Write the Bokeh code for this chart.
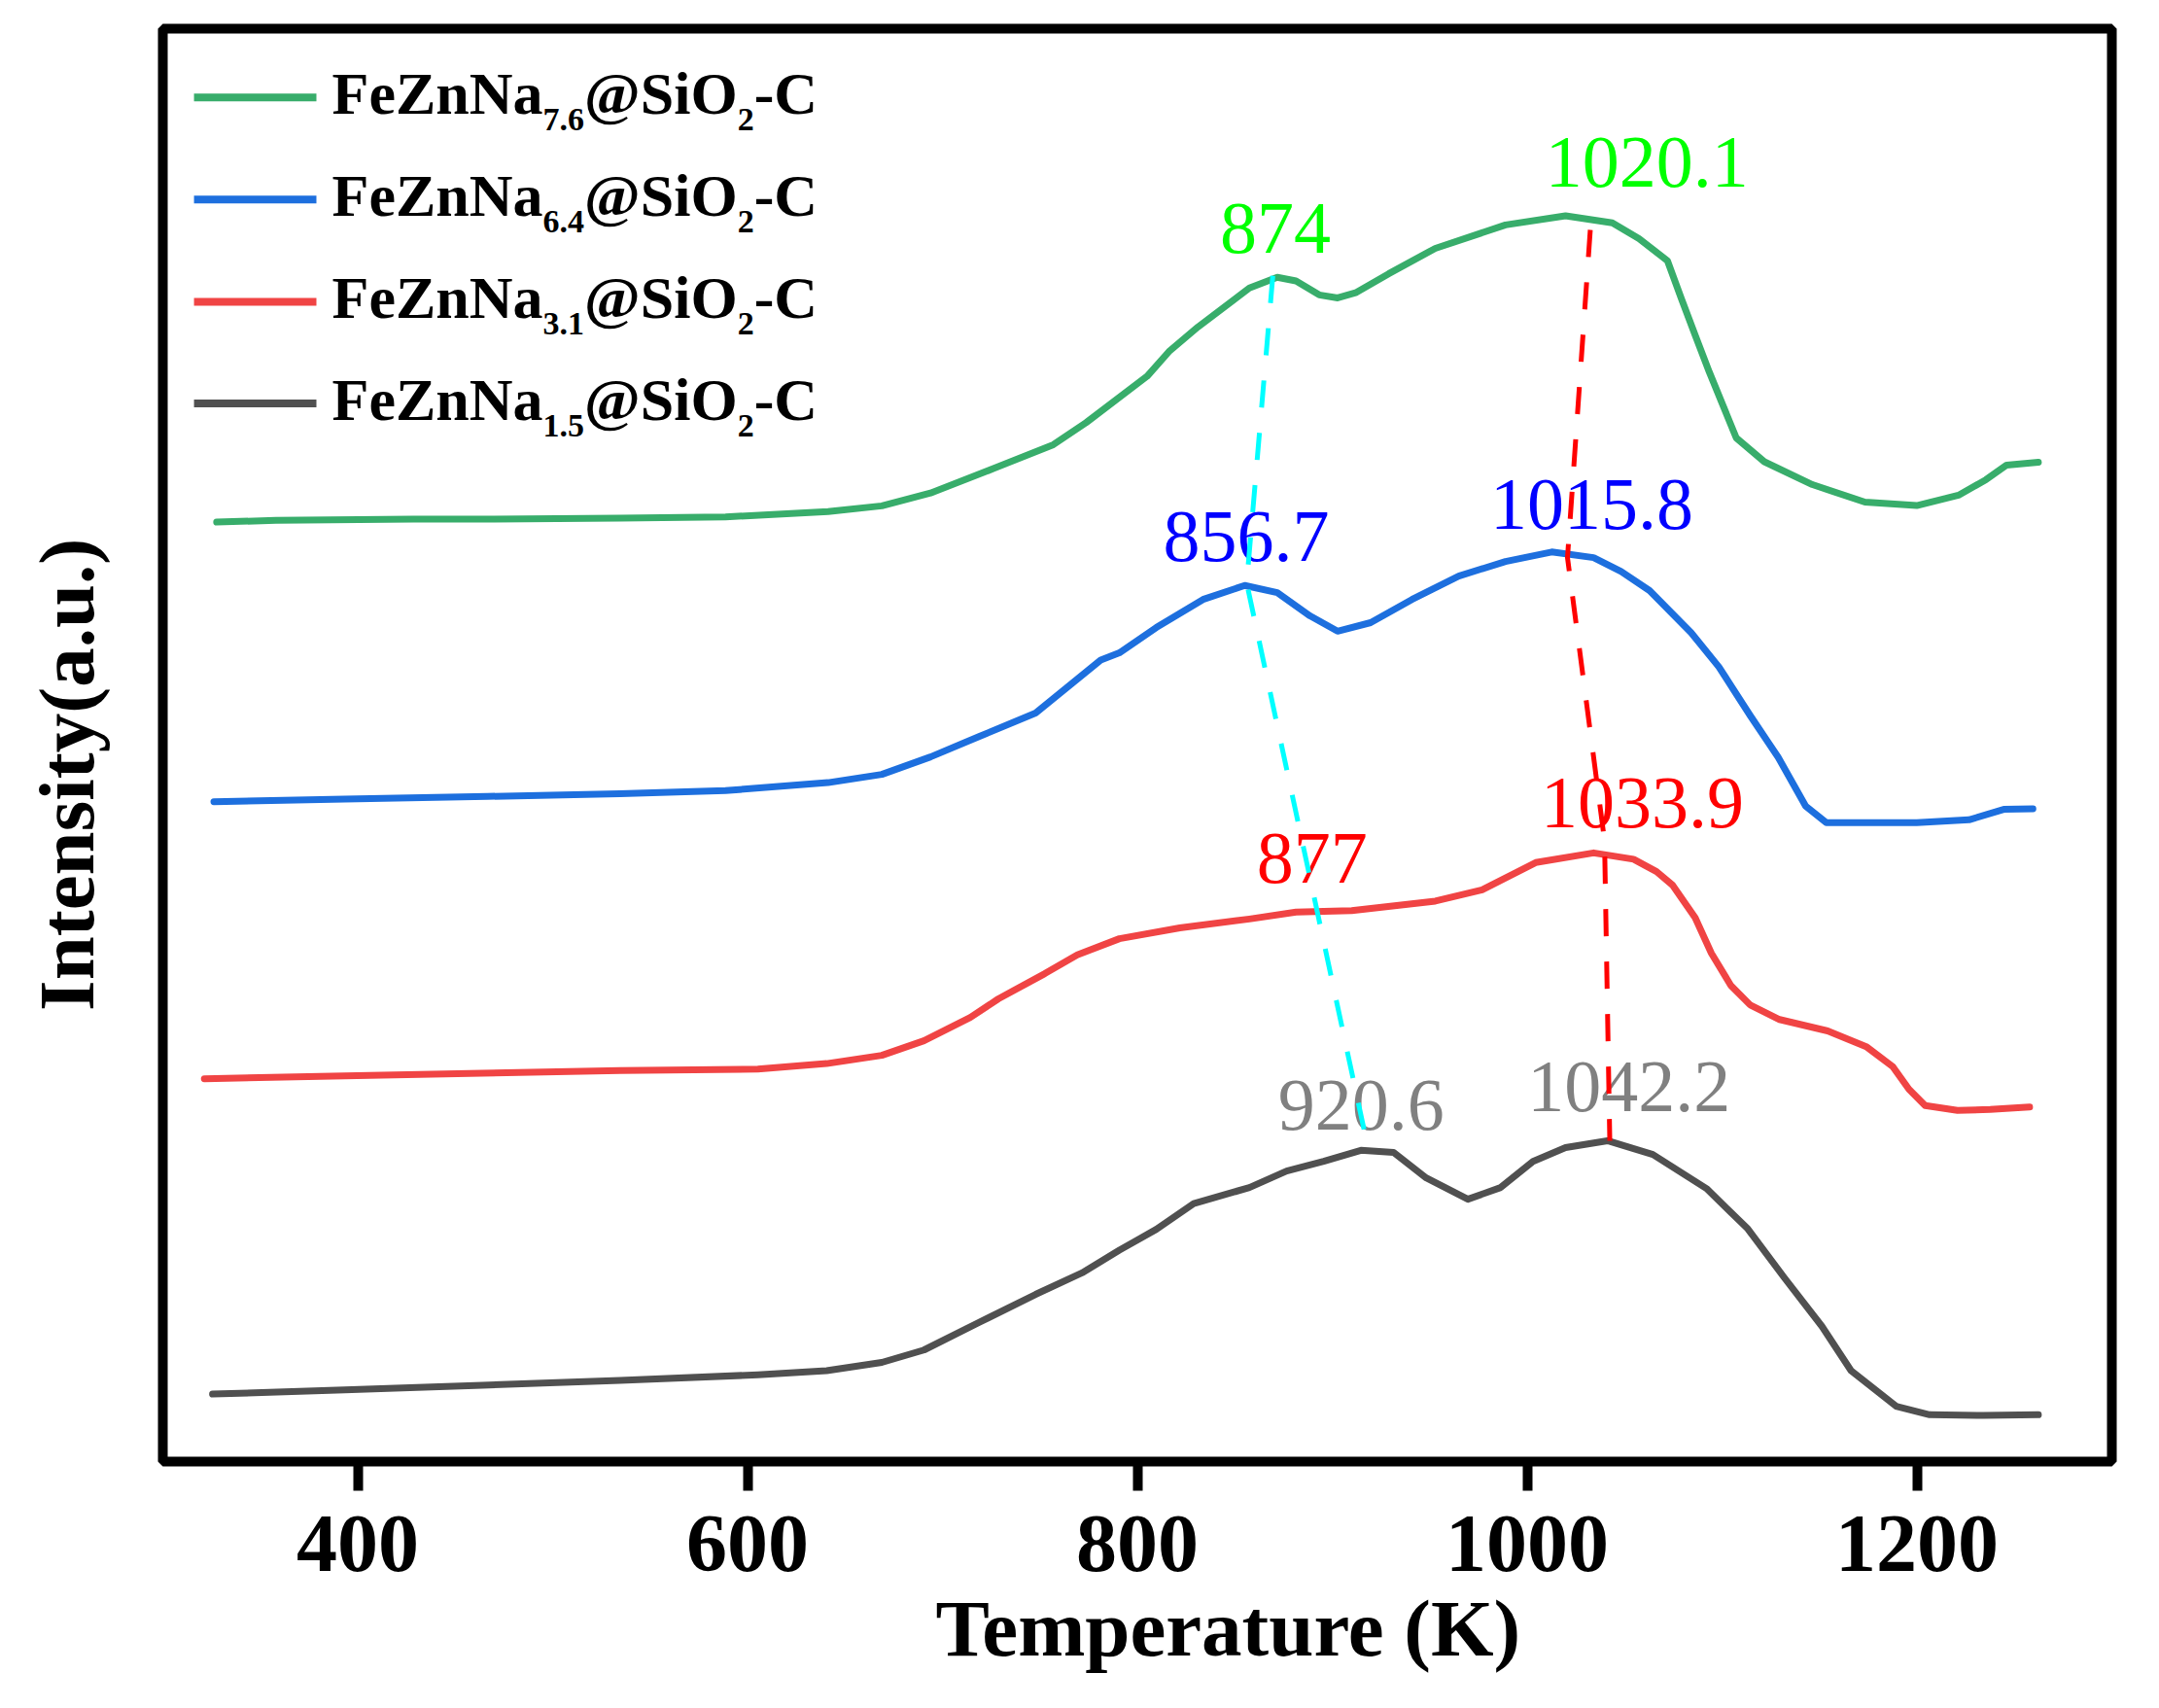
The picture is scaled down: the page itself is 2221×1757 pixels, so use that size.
import math
from bokeh.plotting import figure
from bokeh.models import Range1d, FixedTicker
from bokeh.core.properties import value
from bokeh.embed import file_html
from bokeh.resources import INLINE

# ---------------- data (temperature in K, intensity in a.u.) ----------------
t_76 = [327.6, 358.0, 428.7, 466.5, 534.6, 588.7, 641.3, 668.9, 693.9, 726.1, 756.9, 773.8,
        805.0, 816.2, 831.2, 857.5, 871.8, 881.4, 893.3, 902.8, 912.4, 928.9, 952.9, 988.9,
        1019.7, 1043.7, 1057.4, 1072.0, 1079.0, 1086.2, 1093.5, 1107.3, 1121.7, 1146.4,
        1173.3, 1199.9, 1221.3, 1235.4, 1246.0, 1262.3]
i_76 = [682.2, 683.5, 684.4, 684.4, 685.0, 686.0, 689.8, 694.0, 703.3, 721.0, 738.4, 754.5,
        788.1, 806.0, 824.0, 852.2, 860.0, 857.3, 847.2, 845.0, 849.0, 862.5, 881.0, 898.0,
        904.6, 899.5, 888.0, 872.0, 845.0, 818.0, 791.0, 743.3, 726.0, 709.4,
        696.7, 694.2, 701.7, 713.0, 723.6, 725.7]

t_64 = [326.2, 393.3, 466.5, 534.6, 588.7, 641.3, 668.9, 693.9, 719.0, 747.8, 766.8, 781.2,
        790.8, 809.7, 833.7, 855.1, 871.8, 888.6, 902.7, 919.7, 940.9, 964.9, 988.9, 1012.6,
        1034.1, 1048.2, 1062.8, 1084.1, 1098.4, 1114.5, 1128.8, 1142.9, 1153.5, 1170.5,
        1199.9, 1226.7, 1244.5, 1259.5]
i_64 = [479.2, 481.0, 483.0, 485.0, 487.2, 493.0, 499.0, 511.7, 526.6, 543.5, 565.4, 582.0,
        587.3, 605.6, 626.0, 636.2, 631.0, 614.1, 603.0, 609.2, 626.0, 643.0, 653.6, 660.5,
        656.4, 646.3, 632.5, 602.0, 577.0, 541.6, 511.4, 476.0, 464.0, 464.0,
        464.0, 466.0, 473.6, 474.0]

t_31 = [321.3, 393.3, 464.0, 534.6, 605.3, 640.6, 668.9, 690.5, 714.3, 728.7, 752.5, 769.2,
        790.8, 821.8, 857.5, 881.4, 910.0, 952.9, 976.9, 1004.4, 1034.1, 1054.6, 1066.4,
        1074.6, 1086.2, 1094.5, 1104.5, 1114.5, 1129.5, 1154.2, 1174.3, 1187.6, 1195.9,
        1204.2, 1220.8, 1237.6, 1257.8]
i_31 = [278.0, 280.0, 282.0, 284.0, 285.0, 289.0, 295.0, 305.6, 322.5, 336.0, 354.3, 368.0,
        379.7, 387.5, 394.0, 399.0, 400.0, 407.0, 415.2, 435.0, 442.0, 437.4, 428.4,
        418.6, 395.0, 369.2, 345.7, 331.5, 321.0, 312.7, 301.0, 286.8, 270.3,
        258.5, 255.0, 255.7, 257.4]

t_15 = [325.5, 393.3, 464.0, 534.6, 605.3, 640.6, 668.9, 690.5, 719.0, 747.8, 771.6, 790.8,
        809.7, 828.9, 857.5, 876.6, 895.6, 914.7, 931.5, 948.2, 969.6, 986.4, 1003.0, 1019.7,
        1041.2, 1064.5, 1092.0, 1113.2, 1132.0, 1151.2, 1166.2, 1189.3, 1206.5, 1234.0, 1262.3]
i_15 = [49.0, 52.0, 55.5, 59.0, 63.0, 66.0, 72.0, 81.0, 101.2, 121.4, 137.0, 153.5,
        168.6, 187.3, 199.0, 211.0, 218.0, 226.0, 224.4, 206.0, 190.5, 199.0, 218.0, 228.0,
        233.0, 223.0, 198.3, 169.0, 133.4, 98.3, 66.0, 40.2, 34.0, 33.5, 34.0]

series_names = ["7.6", "6.4", "3.1", "1.5"]
series_colors = ["#38ad6b", "#1d6fde", "#f04444", "#505050"]

# peak annotations
peak_text = ["874", "1020.1", "856.7", "1015.8", "877", "1033.9", "920.6", "1042.2"]
peak_x = [870.8, 1061.5, 855.9, 1033.2, 889.7, 1059.1, 914.8, 1052.3]
peak_y = [876.5, 924.5, 652.5, 676.1, 419.3, 459.1, 239.7, 253.1]
peak_color = ["#00ff00", "#00ff00", "#0000ff", "#0000ff", "#ff0000", "#ff0000", "#808080", "#808080"]

# guide lines through the peaks
guide1_x = [869.5, 856.1, 918.3]
guide1_y = [861.0, 638.0, 228.0]
guide2_x = [1032.4, 1020.7, 1039.7, 1042.4]
guide2_y = [894.4, 656.4, 451.0, 233.0]

x_ticks = [400, 600, 800, 1000, 1200]

# ---------------- figure ----------------
W, H = 2216, 1757
p = figure(width=W, height=H, output_backend="svg", toolbar_location=None,
           x_range=Range1d(300, 1300), y_range=Range1d(0, 1040.5),
           min_border_left=167, min_border_right=W - 2172, min_border_top=29,
           min_border_bottom=H - 1503)
p.background_fill_color = "white"
p.border_fill_color = "white"
p.outline_line_color = "black"
p.outline_line_width = 10
p.xgrid.visible = False
p.ygrid.visible = False

SERIF = "Liberation Serif"
BL = 0.355  # baseline correction for text glyphs (fraction of font size)

ax = p.xaxis[0]
ax.ticker = FixedTicker(ticks=x_ticks)
ax.axis_line_color = None
ax.major_tick_line_color = "black"
ax.major_tick_line_width = 10
ax.major_tick_out = 30
ax.major_tick_in = 0
ax.minor_tick_line_color = None
ax.major_label_text_font = SERIF
ax.major_label_text_font_style = "bold"
ax.major_label_text_font_size = "84px"
ax.major_label_text_color = "black"
ax.major_label_standoff = 26
ax.axis_label = "\u00a0" * 9 + "Temperature (K)"
ax.axis_label_text_font = SERIF
ax.axis_label_text_font_style = "bold"
ax.axis_label_text_font_size = "83px"
ax.axis_label_text_color = "black"
ax.axis_label_standoff = 10

ay = p.yaxis[0]
ay.ticker = FixedTicker(ticks=[])
ay.axis_line_color = None
ay.major_tick_out = 0
ay.major_tick_in = 0
ay.minor_tick_line_color = None
ay.major_label_standoff = 0
ay.major_label_text_font_size = "0px"
ay.axis_label = "Intensity(a.u.)" + "\u00a0" * 3
ay.axis_label_text_font = SERIF
ay.axis_label_text_font_style = "bold"
ay.axis_label_text_font_size = "81px"
ay.axis_label_text_color = "black"
ay.axis_label_standoff = 54

curves = [(t_76, i_76), (t_64, i_64), (t_31, i_31), (t_15, i_15)]
for (tx, iy), c in zip(curves, series_colors):
    p.line(tx, iy, line_color=c, line_width=7, line_join="round", line_cap="round")

# peak labels
p.text(x=peak_x, y=peak_y, text=peak_text, text_color=peak_color,
       text_font=value(SERIF), text_font_size="76px", y_offset=-BL * 76,
       text_align="center", text_baseline="alphabetic")

# dashed guides
p.line(guide1_x, guide1_y, line_color="#00ffff", line_width=5, line_dash="28 26")
p.line(guide2_x, guide2_y, line_color="#ff0000", line_width=5, line_dash="28 26")

# ---------------- legend (manual, with subscripts) ----------------
ADV = {"F": 611, "e": 444, "Z": 667, "n": 556, "N": 722, "a": 500, "@": 930, "S": 556,
       "i": 278, "O": 778, "-": 333, "C": 722, ".": 250}
for d in "0123456789":
    ADV[d] = 500

def adv(s, size):
    return sum(ADV[ch] for ch in s) / 1000.0 * size

MAIN = 62
SUB = 34
row_center = [990.5, 916.5, 842.2, 768.4]
row_base = [977.7, 903.8, 829.8, 755.8]
p.segment(x0=[316.0] * 4, x1=[378.8] * 4, y0=row_center, y1=row_center,
          line_color=series_colors, line_width=8)
tx0 = 386.8
for k, name in enumerate(series_names):
    pieces = [("FeZnNa", MAIN, 0), (name, SUB, 17), ("@SiO", MAIN, 0), ("2", SUB, 17), ("-C", MAIN, 0)]
    off = 0.0
    for s, size, dy in pieces:
        p.text(x=[tx0], y=[row_base[k]], text=[s], x_offset=off, y_offset=dy - BL * size,
               text_font=value(SERIF), text_font_style="bold",
               text_font_size=f"{size}px", text_color="black",
               text_align="left", text_baseline="alphabetic")
        off += adv(s, size)

open("out.html", "w").write(file_html(p, INLINE))
